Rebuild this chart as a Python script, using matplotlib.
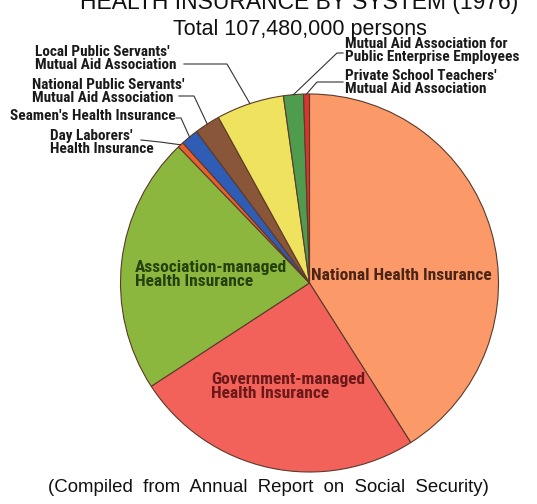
import matplotlib
matplotlib.use("Agg")
import matplotlib.pyplot as plt
from matplotlib.lines import Line2D
import numpy as np

# ================= DATA ================= #
# thousands of persons, total 107,480
SYSTEMS = [
    "National Health Insurance",
    "Government-managed Health Insurance",
    "Association-managed Health Insurance",
    "Day Laborers' Health Insurance",
    "Seamen's Health Insurance",
    "National Public Servants' Mutual Aid Association",
    "Local Public Servants' Mutual Aid Association",
    "Mutual Aid Association for Public Enterprise Employees",
    "Private School Teachers' Mutual Aid Association",
]
MEMBERS = [44070, 26650, 23650, 540, 1610, 2360, 6230, 1830, 540]

COLORS = ["#fb9a68", "#f2625a", "#8cb73e", "#ea5f2c", "#2f5cb5",
          "#8a563a", "#efe25e", "#4f9c4f", "#d8352e"]

# ================= LAYOUT ================= #
W, H = 537, 504
CX, CY, R = 309.5, 283, 189

LABEL_FONT = ["Roboto Condensed", "DejaVu Sans"]
MAIN_FONT = ["Liberation Sans", "DejaVu Sans"]


def fp(x, y):
    # pixel (from top-left) -> figure fraction
    return x / W, 1 - y / H


fig = plt.figure(figsize=(W / 100, H / 100), dpi=100, facecolor="white")
ax = fig.add_axes([(CX - R) / W, (H - CY - R) / H, 2 * R / W, 2 * R / H])

wedges, _ = ax.pie(MEMBERS, colors=COLORS, startangle=90, counterclock=False,
                   radius=1.0,
                   wedgeprops=dict(edgecolor="#5b3a2c", linewidth=0.8))
ax.set_xlim(-1, 1)
ax.set_ylim(-1, 1)
ax.set_aspect("equal")
ax.axis("off")


def edge_px(i):
    w = wedges[i]
    a = np.deg2rad((w.theta1 + w.theta2) / 2)
    return CX + R * np.cos(a), CY - R * np.sin(a)


def leader(points):
    xs, ys = zip(*[fp(x, y) for x, y in points])
    fig.add_artist(Line2D(xs, ys, transform=fig.transFigure,
                          color="#333333", lw=0.8))


# ---- titles ----
fig.text(*fp(299, 9), "HEALTH INSURANCE BY SYSTEM (1976)", ha="center",
         va="baseline", fontsize=16.5, family=MAIN_FONT, color="#111111")
fig.text(*fp(300, 30), "Total 107,480,000 persons", ha="center",
         va="center", fontsize=15.5, family=MAIN_FONT, color="#111111")
fig.text(*fp(268, 487),
         "(Compiled  from  Annual  Report  on  Social  Security)",
         ha="center", va="center", fontsize=13.4, family=MAIN_FONT,
         color="#111111")

lab = dict(family=LABEL_FONT, fontweight="bold", fontsize=11,
           color="#1a1a1a", va="top", ha="left", linespacing=0.9)

# ---- outside labels ----
fig.text(*fp(35, 45), "Local Public Servants'\nMutual Aid Association", **lab)
leader([(184, 64), (227, 64), edge_px(6)])

fig.text(*fp(32, 78), "National Public Servants'\nMutual Aid Association", **lab)
leader([(179, 96), (194, 96), edge_px(5)])

fig.text(*fp(10, 109), "Seamen's Health Insurance", **lab)
leader([(176, 118), (181, 118), edge_px(4)])

fig.text(*fp(50, 129), "Day Laborers'\nHealth Insurance", **lab)
leader([(141, 140), (160, 142), edge_px(3)])

fig.text(*fp(345, 37), "Mutual Aid Association for\nPublic Enterprise Employees", **lab)
leader([(343, 53), (337, 53), edge_px(7)])

fig.text(*fp(345, 69), "Private School Teachers'\nMutual Aid Association", **lab)
leader([(343, 82), (317, 82), edge_px(8)])

# ---- inside labels ----
inner = dict(family=LABEL_FONT, fontweight="bold", fontsize=12.5,
             ha="left", linespacing=0.9)
fig.text(*fp(311, 275), "National Health Insurance", va="center",
         color="#4a2415", **inner)
fig.text(*fp(135, 260), "Association-managed\nHealth Insurance", va="top",
         color="#24400e", **inner)
fig.text(*fp(211, 372), "Government-managed\nHealth Insurance", va="top",
         color="#6a1818", **inner)

fig.savefig("out.png", dpi=100, facecolor="white")
